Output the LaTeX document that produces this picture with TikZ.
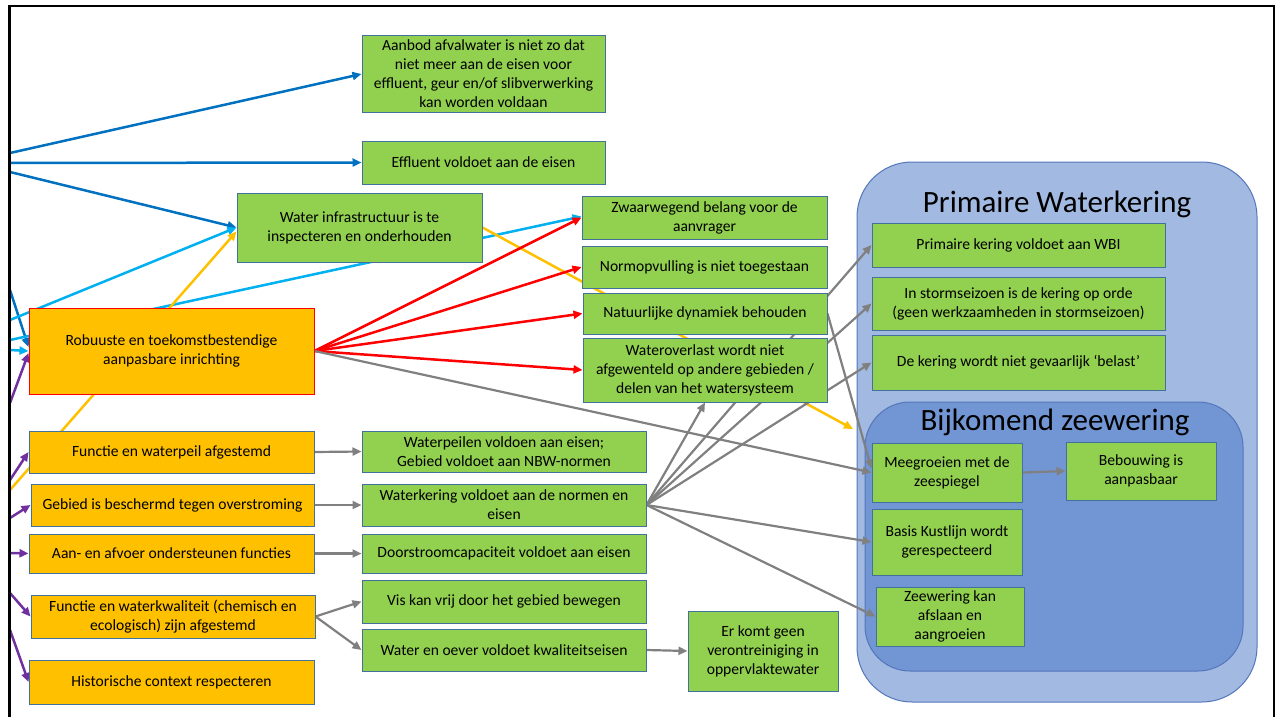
\documentclass[tikz,border=0pt]{standalone}
\usepackage{fontspec}
\setmainfont{Carlito}
\usetikzlibrary{arrows.meta}
\definecolor{groen}{RGB}{146,208,80}
\definecolor{oranje}{RGB}{255,192,0}
\definecolor{rand}{RGB}{65,113,156}
\definecolor{donkerblauw}{RGB}{0,112,192}
\definecolor{lichtblauw}{RGB}{0,176,240}
\definecolor{geel}{RGB}{255,192,0}
\definecolor{rood}{RGB}{255,0,0}
\definecolor{paars}{RGB}{112,48,160}
\definecolor{grijs}{RGB}{128,128,128}
\definecolor{paneelbuiten}{RGB}{162,185,225}
\definecolor{paneelbinnen}{RGB}{114,150,212}
\definecolor{paneelrand}{RGB}{84,118,186}
\pgfdeclarelayer{paneel}
\pgfdeclarelayer{lijnen}
\pgfsetlayers{paneel,lijnen,main}

\begin{document}
\begin{tikzpicture}[x=1pt,y=-1pt,
    kader/.style={draw=rand,line width=1pt,align=center,inner sep=0pt,font=\fontsize{15.6}{19}\selectfont},
    groenkader/.style={kader,fill=groen},
    oranjekader/.style={kader,fill=oranje},
    pijl/.style={line width=2.5pt,#1,-{Triangle[length=9pt,width=8pt]}},
    grijspijl/.style={line width=2.2pt,grijs,-{Triangle[length=9pt,width=8pt]}}]
    \useasboundingbox (0,0) rectangle (1277,717);

    % panelen rechts
    \begin{pgfonlayer}{paneel}
    \node[draw=paneelrand,fill=paneelbuiten,line width=1pt,rounded corners=55pt,minimum width=400pt,minimum height=540pt] (buiten) at (1057,432) {};
    \node[draw=paneelrand,fill=paneelbinnen,line width=1pt,rounded corners=45pt,minimum width=378pt,minimum height=269pt] (binnen) at (1054,536.5) {};
    \node[font=\fontsize{31}{36}\selectfont] (titel1) at (1057,204) {Primaire Waterkering};
    \node[font=\fontsize{31}{36}\selectfont] (titel2) at (1055,422) {Bijkomend zeewering};
    \end{pgfonlayer}

    % groene kaders
    \node[groenkader,minimum width=243pt,minimum height=76pt] (aanbod) at (483.5,74) {Aanbod afvalwater is niet zo dat\\niet meer aan de eisen voor\\effluent, geur en/of slibverwerking\\kan worden voldaan};
    \node[groenkader,minimum width=243pt,minimum height=43pt] (effluent) at (483.5,162.5) {Effluent voldoet aan de eisen};
    \node[groenkader,minimum width=245pt,minimum height=69pt] (infra) at (359.5,227.5) {Water infrastructuur is te\\inspecteren en onderhouden};
    \node[groenkader,minimum width=245pt,minimum height=43pt] (zwaar) at (704.5,217.5) {Zwaarwegend belang voor de\\aanvrager};
    \node[groenkader,minimum width=245pt,minimum height=42pt] (normop) at (704.5,267) {Normopvulling is niet toegestaan};
    \node[groenkader,minimum width=244pt,minimum height=41pt] (natuur) at (705,313.5) {Natuurlijke dynamiek behouden};
    \node[groenkader,minimum width=244pt,minimum height=64pt] (overlast) at (705,370) {Wateroverlast wordt niet\\afgewenteld op andere gebieden /\\delen van het watersysteem};
    \node[groenkader,minimum width=284pt,minimum height=41pt] (peilen) at (504,451.5) {Waterpeilen voldoen aan eisen;\\Gebied voldoet aan NBW-normen};
    \node[groenkader,minimum width=284pt,minimum height=42pt] (kering) at (504,505) {Waterkering voldoet aan de normen en\\eisen};
    \node[groenkader,minimum width=284pt,minimum height=39pt] (doorstroom) at (504,553.5) {Doorstroomcapaciteit voldoet aan eisen};
    \node[groenkader,minimum width=284pt,minimum height=43pt] (vis) at (504,601.5) {Vis kan vrij door het gebied bewegen};
    \node[groenkader,minimum width=284pt,minimum height=42pt] (oever) at (504,650) {Water en oever voldoet kwaliteitseisen};
    \node[groenkader,minimum width=150pt,minimum height=80pt] (geen) at (763,651) {Er komt geen\\verontreiniging in\\oppervlaktewater};
    \node[groenkader,minimum width=293pt,minimum height=44pt] (wbi) at (1018.5,245) {Primaire kering voldoet aan WBI};
    \node[groenkader,minimum width=293pt,minimum height=53pt] (storm) at (1018.5,303.5) {In stormseizoen is de kering op orde\\(geen werkzaamheden in stormseizoen)};
    \node[groenkader,minimum width=293pt,minimum height=55pt] (belast) at (1018.5,362.5) {De kering wordt niet gevaarlijk ‘belast’};
    \node[groenkader,minimum width=150pt,minimum height=59pt] (mee) at (947,472.5) {Meegroeien met de\\zeespiegel};
    \node[groenkader,minimum width=150pt,minimum height=58pt] (bebouw) at (1141,471) {Bebouwing is\\aanpasbaar};
    \node[groenkader,minimum width=150pt,minimum height=66pt] (kust) at (947,542) {Basis Kustlijn wordt\\gerespecteerd};
    \node[groenkader,minimum width=148pt,minimum height=59pt] (zeew) at (950,616.5) {Zeewering kan\\afslaan en\\aangroeien};

    % oranje kaders
    \node[oranjekader,draw=rood,minimum width=285pt,minimum height=86pt] (robuust) at (171.5,351) {Robuuste en toekomstbestendige\\aanpasbare inrichting};
    \node[oranjekader,minimum width=285pt,minimum height=42pt] (fpeil) at (171.5,452) {Functie en waterpeil afgestemd};
    \node[oranjekader,minimum width=283pt,minimum height=42pt] (gebied) at (172.5,505) {Gebied is beschermd tegen overstroming};
    \node[oranjekader,minimum width=285pt,minimum height=39pt] (aanaf) at (171.5,553.5) {Aan- en afvoer ondersteunen functies};
    \node[oranjekader,minimum width=284pt,minimum height=43pt] (fkwal) at (173,616.5) {Functie en waterkwaliteit (chemisch en\\ecologisch) zijn afgestemd};
    \node[oranjekader,minimum width=285pt,minimum height=44pt] (histo) at (171.5,682) {Historische context respecteren};

    % losse eindpunten
    \coordinate (db1) at (10,153);
    \coordinate (db2) at (10,163);
    \coordinate (db3) at (10,172);
    \coordinate (db4) at (10,290);
    \coordinate (lb1) at (10,320);
    \coordinate (lb2) at (10,340);
    \coordinate (lb3) at (10,350);
    \coordinate (ge1) at (10,490);
    \coordinate (ge2) at (853,429);
    \coordinate (pa1) at (10,403);
    \coordinate (pa2) at (10,480);
    \coordinate (pa3) at (10,518);
    \coordinate (pa4) at (10,553);
    \coordinate (pa5) at (10,593);
    \coordinate (pa6) at (10,630);

    \begin{pgfonlayer}{lijnen}
    \draw[pijl=donkerblauw] (db1) -- (aanbod.west);
    \draw[pijl=donkerblauw] (db2) -- (effluent.west);
    \draw[pijl=donkerblauw] (db3) -- (infra.west);
    \draw[pijl=donkerblauw] (db4) -- ([yshift=4pt]robuust.west);

    \draw[pijl=lichtblauw] (lb1) -- (infra.west);
    \draw[pijl=lichtblauw] (lb2) -- ([yshift=1pt]zwaar.west);
    \draw[pijl=lichtblauw] (lb3) -- (robuust.west);

    \draw[pijl=geel] (ge1) -- ([yshift=-4pt]infra.west);
    \draw[pijl=geel] (infra.east) -- (ge2);

    \draw[pijl=rood] (robuust.east) -- (zwaar.west);
    \draw[pijl=rood] (robuust.east) -- (normop.west);
    \draw[pijl=rood] (robuust.east) -- (natuur.west);
    \draw[pijl=rood] (robuust.east) -- (overlast.west);

    \draw[pijl=paars] (pa1) -- ([yshift=-2pt]robuust.west);
    \draw[pijl=paars] (pa2) -- (fpeil.west);
    \draw[pijl=paars] (pa3) -- (gebied.west);
    \draw[pijl=paars] (pa4) -- (aanaf.west);
    \draw[pijl=paars] (pa5) -- (fkwal.west);
    \draw[pijl=paars] (pa6) -- (histo.west);

    \draw[grijspijl] (robuust.east) -- (mee.west);
    \draw[grijspijl] (natuur.east) -- ([yshift=4pt]mee.west);
    \draw[grijspijl] (fpeil.east) -- (peilen.west);
    \draw[grijspijl] (gebied.east) -- (kering.west);
    \draw[grijspijl] (aanaf.east) -- (doorstroom.west);
    \draw[grijspijl] (fkwal.east) -- (vis.west);
    \draw[grijspijl] (fkwal.east) -- (oever.west);
    \draw[grijspijl] (oever.east) -- (geen.west);
    \draw[grijspijl] (kering.east) -- (overlast.south);
    \draw[grijspijl] (kering.east) -- (wbi.west);
    \draw[grijspijl] (kering.east) -- (storm.west);
    \draw[grijspijl] (kering.east) -- (belast.west);
    \draw[grijspijl] (kering.east) -- (kust.west);
    \draw[grijspijl] (kering.east) -- (zeew.west);
    \draw[grijspijl] (mee.east) -- (bebouw.west);
    \end{pgfonlayer}

    % kader rondom
    \draw[line width=2pt] (9.5,730) -- (9.5,6.5) -- (1274,6.5) -- (1274,730);
    \draw[line width=3.5pt] (9.5,730) -- (9.5,5.5);
\end{tikzpicture}
\end{document}
